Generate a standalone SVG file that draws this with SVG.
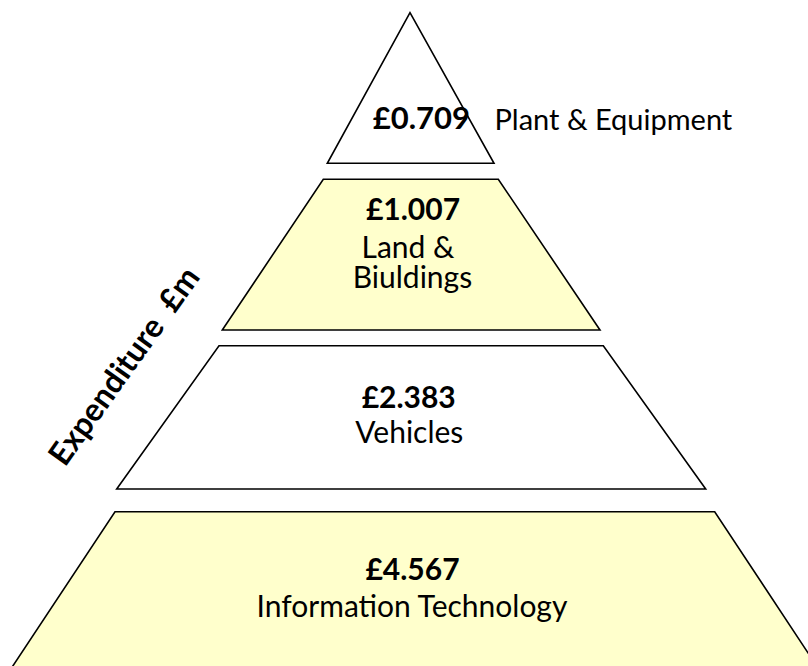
<svg xmlns="http://www.w3.org/2000/svg" width="808" height="666" viewBox="0 0 808 666">
<style>
.tier{stroke:#000;stroke-width:1.6;stroke-linejoin:miter}
.y{fill:#FFFFCC}
.w{fill:#FFFFFF}
.t{font-family:Lato,"Liberation Sans",sans-serif;font-size:30px;fill:#000}
.b{font-weight:bold}
.c{text-anchor:middle}
</style>
<rect width="808" height="666" fill="#fff"/>
<g id="plant-equipment">
<polygon class="tier w" points="410,12.7 494,163.3 327.3,163.3"/>
<text class="t b" x="470" y="129" text-anchor="end" style="font-size:31px">£0.709</text>
<text class="t" x="494.5" y="129.5" style="font-size:29px">Plant &amp; Equipment</text>
</g>
<g id="land-buildings">
<polygon class="tier y" points="323.3,179.3 498.3,179.3 600,330 222.3,330"/>
<text class="t b c" x="413" y="220">£1.007</text>
<text class="t c"><tspan x="408" y="258.3">Land &amp;</tspan><tspan x="412.5" y="288.3">Biuldings</tspan></text>
</g>
<g id="vehicles">
<polygon class="tier w" points="219,345.7 603.3,345.7 705.7,489 116.7,489"/>
<text class="t b c" x="408.7" y="408.3">£2.383</text>
<text class="t c" x="409.3" y="442.7">Vehicles</text>
</g>
<g id="information-technology">
<polygon class="tier y" points="115,511.7 714.7,511.7 818,668 11.5,668"/>
<text class="t b c" x="412.5" y="580">£4.567</text>
<text class="t c" x="412" y="617.3">Information Technology</text>
</g>
<g id="axis-label">
<text class="t b c" x="133" y="372.5" transform="rotate(-54.5 133 372.5)" xml:space="preserve" style="font-size:32px">Expenditure  £m</text>
</g>
</svg>
